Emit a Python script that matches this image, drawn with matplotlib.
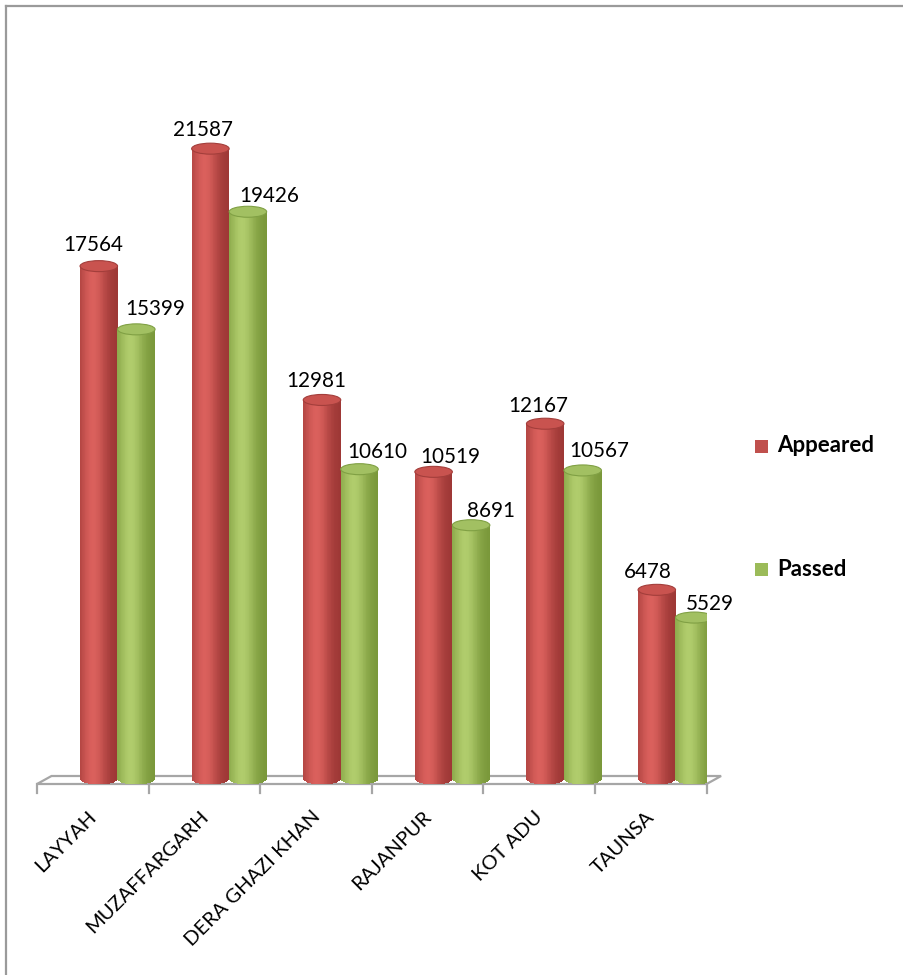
import numpy as np
import matplotlib.pyplot as plt
from matplotlib.patches import Ellipse, Polygon, Rectangle
from matplotlib.lines import Line2D

plt.rcParams['font.family'] = ['Lato', 'DejaVu Sans']

# data
districts = ['LAYYAH', 'MUZAFFARGARH', 'DERA GHAZI KHAN', 'RAJANPUR', 'KOT ADU', 'TAUNSA']
appeared = [17564, 21587, 12981, 10519, 12167, 6478]
passed = [15399, 19426, 10610, 8691, 10567, 5529]
series_names = ['Appeared', 'Passed']

# label nudges in pixels (x from bar centre, y above bar top)
red_lab_dx = [-6, -7, -6, 17, -7, -9]
red_lab_dy = [15, 13, 13, 9, 12, 12]
green_lab_dx = [18.5, 21, 17.5, 20, 16.5, 16]
green_lab_dy = [14, 10, 11, 8, 13, 8]

W, H = 904, 975
fig = plt.figure(figsize=(W / 100, H / 100), dpi=100)

# layout in pixels
px_left, px_right = 37, 706.6
px_bottom, px_top = 784, 40
px_zero = 779
scale = 0.0292                      # pixels per student
unit_x = (px_right - px_left) / 6   # pixels per category

ax = fig.add_axes([px_left / W, 1 - px_bottom / H,
                   (px_right - px_left) / W, (px_bottom - px_top) / H])
ax.set_xlim(-0.5, len(districts) - 0.5)
ax.set_ylim(-(px_bottom - px_zero) / scale, (px_zero - px_top) / scale)
ax.axis('off')


def dx(p):
    return p / unit_x


def dy(p):
    return p / scale


# floor of the 3d chart
floor_col = '#a6a6a6'
yf = -dy(5)
yb = dy(3)
depth = dx(14.5)
n = len(districts)
floor = Polygon([(-0.5, yf), (n - 0.5, yf), (n - 0.5 + depth, yb), (-0.5 + depth, yb)],
                closed=True, facecolor='white', edgecolor=floor_col, lw=1.6,
                clip_on=False, zorder=1)
ax.add_patch(floor)
for k in range(n + 1):
    ax.plot([k - 0.5, k - 0.5], [yf, yf - dy(9)], color=floor_col, lw=1.6,
            clip_on=False, zorder=1)

# cylinders
bar_w = dx(37.5)
ry = dy(5.5)


def cylinder(xc, h, dark, light, top_col, rim_col):
    m = 48
    u = np.linspace(-1, 1, m + 1)
    mid = (u[:-1] + u[1:]) / 2
    xs = xc + mid * bar_w / 2
    bottoms = -ry * np.sqrt(1 - mid ** 2)
    t = np.exp(-((mid + 0.3) / 0.6) ** 2) ** 0.7
    dark = np.array(dark) / 255
    light = np.array(light) / 255
    cols = dark[None, :] + (light - dark)[None, :] * t[:, None]
    ax.bar(xs, h - bottoms, bottom=bottoms, width=bar_w / m * 1.15,
           color=cols, linewidth=0, zorder=3)
    ax.add_patch(Ellipse((xc, h), bar_w, 2 * ry, facecolor=top_col,
                         edgecolor=rim_col, lw=0.8, zorder=4))


red_off, green_off = dx(6), dx(43.5)
for i in range(n):
    cylinder(i + red_off, appeared[i], (155, 54, 52), (218, 96, 92), '#c9534f', '#a33e3b')
    cylinder(i + green_off, passed[i], (120, 150, 56), (176, 204, 108), '#a2c062', '#80a044')

# value labels
for i in range(n):
    ax.text(i + red_off + dx(red_lab_dx[i]), appeared[i] + dy(red_lab_dy[i]), str(appeared[i]),
            ha='center', va='baseline', fontsize=14.9, color='black', zorder=5)
    ax.text(i + green_off + dx(green_lab_dx[i]), passed[i] + dy(green_lab_dy[i]), str(passed[i]),
            ha='center', va='baseline', fontsize=14.9, color='black', zorder=5)

# category labels
for i, name in enumerate(districts):
    ax.text(i + dx(5), -dy(39), name, rotation=45, rotation_mode='anchor',
            ha='right', va='baseline', fontsize=14.5, color='black')

# legend
leg_cols = ['#c0504d', '#9bbb59']
leg_y = [446, 569]
for name, col, yy in zip(series_names, leg_cols, leg_y):
    fig.add_artist(Rectangle((755 / W, 1 - (yy + 6.5) / H), 13 / W, 13 / H,
                             facecolor=col, edgecolor='none', transform=fig.transFigure))
    fig.text(777 / W, 1 - yy / H, name, ha='left', va='center',
             fontsize=16, fontweight='bold', color='black')

# outer border
bc = '#9a9a9a'
fig.add_artist(Line2D([6 / W, 1], [1 - 6 / H, 1 - 6 / H], color=bc, lw=1.6,
                      transform=fig.transFigure))
fig.add_artist(Line2D([6 / W, 6 / W], [0, 1 - 6 / H], color=bc, lw=1.6,
                      transform=fig.transFigure))

fig.savefig('out.png', dpi=100)
